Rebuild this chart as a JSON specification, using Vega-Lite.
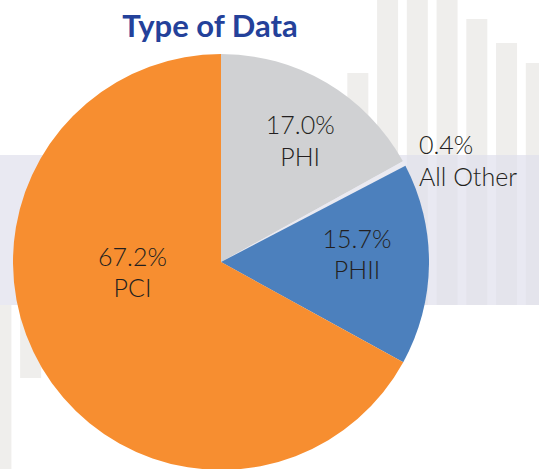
{
  "$schema": "https://vega.github.io/schema/vega-lite/v6.json",
  "width": 442,
  "height": 524,
  "autosize": "none",
  "padding": {"left": 0, "top": 0, "right": 97, "bottom": 0},
  "background": "white",
  "config": {"view": {"stroke": null}},
  "title": {"text": "Type of Data", "anchor": "middle", "offset": -69, "dx": -11, "fontSize": 31, "font": "Lato", "fontWeight": "bold", "color": "#24419a"},
  "layer": [
    {
      "data": {"values": [
        {"slot": 0, "level": -200},
        {"slot": 1, "level": -73},
        {"slot": 12, "level": 232},
        {"slot": 13, "level": 330},
        {"slot": 14, "level": 330},
        {"slot": 15, "level": 330},
        {"slot": 16, "level": 286},
        {"slot": 17, "level": 262},
        {"slot": 18, "level": 242}
      ]},
      "layer": [
        {
          "mark": {"type": "bar", "width": 21, "color": "#efeeec", "orient": "vertical"},
          "encoding": {
            "x": {"field": "slot", "type": "quantitative", "scale": {"domain": [0, 18], "range": [-4.1, 541.3], "nice": false, "zero": false}, "axis": null},
            "y": {"field": "level", "type": "quantitative", "scale": {"domain": [0, 305], "range": [305, 0], "nice": false, "zero": false}, "axis": null},
            "y2": {"datum": 0}
          }
        },
        {
          "data": {"values": [{}]},
          "mark": {"type": "rect", "color": "#dfdfec", "opacity": 0.69},
          "encoding": {
            "x": {"datum": -1, "type": "quantitative"},
            "x2": {"datum": 19},
            "y": {"datum": 150, "type": "quantitative"},
            "y2": {"datum": 0}
          }
        }
      ]
    },
    {
      "data": {"values": [
        {"type": "PHI", "share": 0.170, "n": 1},
        {"type": "All Other", "share": 0.004, "n": 2},
        {"type": "PHII", "share": 0.157, "n": 3},
        {"type": "PCI", "share": 0.672, "n": 4}
      ]},
      "encoding": {
        "theta": {"field": "share", "type": "quantitative", "stack": true},
        "order": {"field": "n", "type": "quantitative"}
      },
      "layer": [
        {
          "mark": {"type": "arc", "radius": 208},
          "encoding": {
            "color": {"field": "type", "type": "nominal", "scale": {"domain": ["PHI", "All Other", "PHII", "PCI"], "range": ["#d0d1d3", "#eaeaf1", "#4c80bd", "#f78e30"]}, "legend": null}
          }
        },
        {
          "mark": {"type": "text", "radius": 156, "dy": 6.4, "baseline": "alphabetic", "align": "center", "font": "Lato", "fontWeight": 300, "fontSize": 25, "color": "#231f20"},
          "encoding": {"text": {"condition": {"test": "datum.type === 'PHI'", "field": "share", "type": "quantitative", "format": ".1%"}, "value": ""}}
        },
        {
          "mark": {"type": "text", "radius": 156, "dy": 38.4, "baseline": "alphabetic", "align": "center", "font": "Lato", "fontWeight": 300, "fontSize": 25, "color": "#231f20"},
          "encoding": {"text": {"condition": {"test": "datum.type === 'PHI'", "field": "type", "type": "nominal"}, "value": ""}}
        },
        {
          "mark": {"type": "text", "radius": 136, "dy": -15.5, "baseline": "alphabetic", "align": "center", "font": "Lato", "fontWeight": 300, "fontSize": 25, "color": "#231f20"},
          "encoding": {"text": {"condition": {"test": "datum.type === 'PHII'", "field": "share", "type": "quantitative", "format": ".1%"}, "value": ""}}
        },
        {
          "mark": {"type": "text", "radius": 136, "dy": 15.5, "baseline": "alphabetic", "align": "center", "font": "Lato", "fontWeight": 300, "fontSize": 25, "color": "#231f20"},
          "encoding": {"text": {"condition": {"test": "datum.type === 'PHII'", "field": "type", "type": "nominal"}, "value": ""}}
        },
        {
          "mark": {"type": "text", "radius": 102.8, "dy": -48.3, "baseline": "alphabetic", "align": "center", "font": "Lato", "fontWeight": 300, "fontSize": 25, "color": "#231f20"},
          "encoding": {"text": {"condition": {"test": "datum.type === 'PCI'", "field": "share", "type": "quantitative", "format": ".1%"}, "value": ""}}
        },
        {
          "mark": {"type": "text", "radius": 102.8, "dy": -17.3, "baseline": "alphabetic", "align": "center", "font": "Lato", "fontWeight": 300, "fontSize": 25, "color": "#231f20"},
          "encoding": {"text": {"condition": {"test": "datum.type === 'PCI'", "field": "type", "type": "nominal"}, "value": ""}}
        },
        {
          "mark": {"type": "text", "radius": 224.8, "dy": -1.5, "baseline": "alphabetic", "align": "left", "font": "Lato", "fontWeight": 300, "fontSize": 25, "color": "#231f20"},
          "encoding": {"text": {"condition": {"test": "datum.type === 'All Other'", "field": "share", "type": "quantitative", "format": ".1%"}, "value": ""}}
        },
        {
          "mark": {"type": "text", "radius": 224.8, "dy": 30.5, "baseline": "alphabetic", "align": "left", "font": "Lato", "fontWeight": 300, "fontSize": 25, "color": "#231f20"},
          "encoding": {"text": {"condition": {"test": "datum.type === 'All Other'", "field": "type", "type": "nominal"}, "value": ""}}
        }
      ]
    }
  ]
}
